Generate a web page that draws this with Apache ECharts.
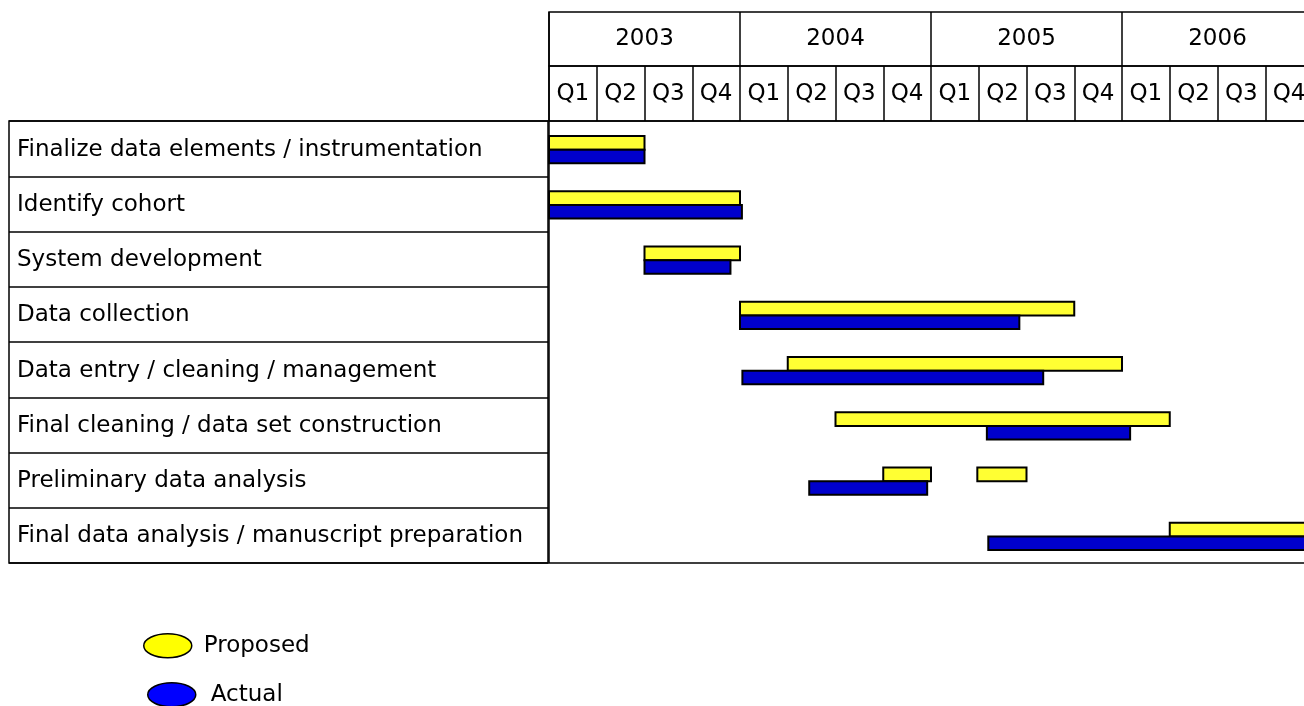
<!DOCTYPE html>
<html>
<head>
<meta charset="utf-8">
<script src="https://cdn.jsdelivr.net/npm/echarts@6/dist/echarts.min.js"></script>
<style>
html,body{margin:0;padding:0;background:#fff;}
#chart{width:1304px;height:706px;}
</style>
</head>
<body>
<div id="chart"></div>
<script>
// ---- data ----
const years = ['2003', '2004', '2005', '2006'];
const quarterLabels = ['Q1', 'Q2', 'Q3', 'Q4'];
const tasks = [
  'Finalize data elements / instrumentation',
  'Identify cohort',
  'System development',
  'Data collection',
  'Data entry / cleaning / management',
  'Final cleaning / data set construction',
  'Preliminary data analysis',
  'Final data analysis / manuscript preparation'
];
// [task index, start, end] in quarters counted from the start of 2003 Q1
const proposedBars = [
  [0, 0, 2],
  [1, 0, 4],
  [2, 2, 4],
  [3, 4, 11],
  [4, 5, 12],
  [5, 6, 13],
  [6, 7, 8],
  [6, 8.97, 10],
  [7, 13, 16]
];
const actualBars = [
  [0, 0, 2],
  [1, 0, 4.04],
  [2, 2, 3.8],
  [3, 4, 9.85],
  [4, 4.05, 10.35],
  [5, 9.17, 12.17],
  [6, 5.45, 7.92],
  [7, 9.2, 16]
];

const quarterCats = [];
years.forEach(y => quarterLabels.forEach(q => quarterCats.push(y + ' ' + q)));

const FONT = 'DejaVu Sans';
const LINE = '#000';
const LW = 1.5;

function makeRender(isTop, color) {
  return function (params, api) {
    const row = api.value(0);
    const s = api.coord([api.value(1), row]);
    const e = api.coord([api.value(2), row]);
    const band = api.size([0, 1])[1];
    const h = band * 0.245;
    const mid = s[1] + 1;
    const y = isTop ? mid - h : mid;
    return {
      type: 'rect',
      shape: { x: s[0], y: y, width: e[0] - s[0], height: h },
      style: { fill: color, stroke: '#000', lineWidth: 2 }
    };
  };
}

const headerLabel = {
  inside: true,
  margin: 26.5,
  verticalAlign: 'middle',
  color: '#000',
  fontFamily: FONT,
  fontSize: 23,
  interval: 0
};

const gridStyle = { show: true, borderColor: LINE, borderWidth: LW, backgroundColor: 'transparent', outerBoundsMode: 'none', containLabel: false };

const ellipse = 'path://M0,50 A100,50 0 1 1 200,50 A100,50 0 1 1 0,50 Z';

const chart = echarts.init(document.getElementById('chart'), null, { renderer: 'canvas' });
chart.setOption({
  animation: false,
  backgroundColor: '#fff',
  grid: [
    Object.assign({ left: 549, top: 12, width: 764, height: 54 }, gridStyle),
    Object.assign({ left: 549, top: 66, width: 764, height: 55 }, gridStyle),
    Object.assign({ left: 549, top: 121, width: 764, height: 442 }, gridStyle),
    Object.assign({ left: 9, top: 121, width: 539, height: 442 }, gridStyle)
  ],
  xAxis: [
    {
      gridIndex: 0, type: 'category', data: years, position: 'bottom',
      axisLine: { show: false }, axisTick: { show: false },
      axisLabel: headerLabel,
      splitLine: { show: true, interval: 0, lineStyle: { color: LINE, width: LW } }
    },
    {
      gridIndex: 1, type: 'category', data: quarterCats, position: 'bottom',
      axisLine: { show: false }, axisTick: { show: false },
      axisLabel: Object.assign({}, headerLabel, { formatter: v => v.split(' ')[1] }),
      splitLine: { show: true, interval: 0, lineStyle: { color: LINE, width: LW } }
    },
    { gridIndex: 2, type: 'value', min: 0, max: 16, show: false },
    { gridIndex: 3, type: 'value', min: 0, max: 1, show: false }
  ],
  yAxis: [
    { gridIndex: 0, type: 'value', show: false },
    { gridIndex: 1, type: 'value', show: false },
    { gridIndex: 2, type: 'category', data: tasks, inverse: true, show: false },
    {
      gridIndex: 3, type: 'category', data: tasks, inverse: true,
      axisLine: { show: false }, axisTick: { show: false },
      axisLabel: { inside: true, margin: 8, interval: 0, color: '#000', fontFamily: FONT, fontSize: 23, align: 'left', verticalAlign: 'top', lineHeight: 2 },
      splitLine: { show: true, interval: 0, lineStyle: { color: LINE, width: LW } }
    }
  ],
  legend: [
    {
      left: 143, top: 633, padding: 0,
      itemWidth: 48, itemHeight: 24, icon: ellipse,
      itemStyle: { borderColor: '#000', borderWidth: 1.5 },
      textStyle: { fontFamily: FONT, fontSize: 23, color: '#000', lineHeight: 24, padding: [0, 0, 0, 7] },
      data: [{ name: 'Proposed', itemStyle: { color: '#FFFF00' } }],
      selectedMode: false
    },
    {
      left: 147, top: 682, padding: 0,
      itemWidth: 48, itemHeight: 24, icon: ellipse,
      itemStyle: { borderColor: '#000', borderWidth: 1.5 },
      textStyle: { fontFamily: FONT, fontSize: 23, color: '#000', lineHeight: 24, padding: [0, 0, 0, 10] },
      data: [{ name: 'Actual', itemStyle: { color: '#0000FF' } }],
      selectedMode: false
    }
  ],
  series: [
    {
      name: 'Proposed', type: 'custom', xAxisIndex: 2, yAxisIndex: 2,
      renderItem: makeRender(true, '#FFFF33'),
      itemStyle: { color: '#FFFF33' },
      encode: { x: [1, 2], y: 0 },
      data: proposedBars
    },
    {
      name: 'Actual', type: 'custom', xAxisIndex: 2, yAxisIndex: 2,
      renderItem: makeRender(false, '#0000CC'),
      itemStyle: { color: '#0000CC' },
      encode: { x: [1, 2], y: 0 },
      data: actualBars
    }
  ]
});
</script>
</body>
</html>
